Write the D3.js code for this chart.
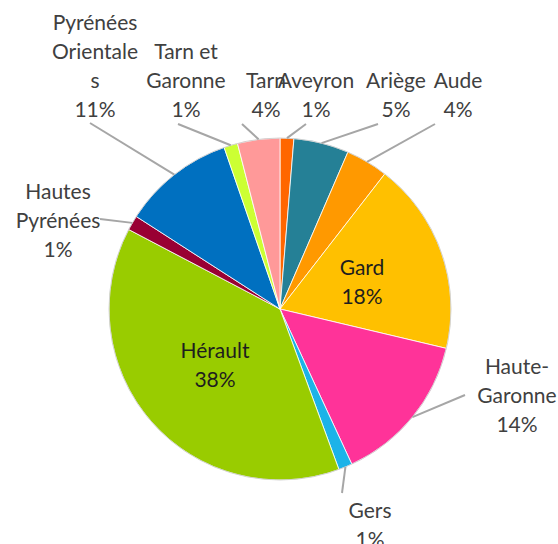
<!DOCTYPE html>
<html>
<head>
<meta charset="utf-8">
<script src="https://cdn.jsdelivr.net/npm/d3@7"></script>
<style>
  body { margin: 0; background: #fff; }
  svg { display: block; }
</style>
</head>
<body>
<div id="chart"></div>
<script>
// donnees (parts en %, ordre horaire depuis midi)
var departements = ["Aveyron", "Ariège", "Aude", "Gard", "Haute-Garonne", "Gers", "Hérault", "Hautes Pyrénées", "Pyrénées Orientales", "Tarn et Garonne", "Tarn"];
var parts = [1.3, 5.2, 4.0, 18.2, 14.4, 1.3, 38.3, 1.4, 10.6, 1.3, 4.0];
var couleurs = ["#FF6600", "#258096", "#FF9900", "#FFC000", "#FF3399", "#1CB3E8", "#99CC00", "#990033", "#0070C0", "#CCFF33", "#FF9999"];
// libelles tels qu'affiches (retours a la ligne)
var libelles = [["Aveyron"], ["Ariège"], ["Aude"], ["Gard"], ["Haute-", "Garonne"], ["Gers"], ["Hérault"], ["Hautes", "Pyrénées"], ["Pyrénées", "Orientale", "s"], ["Tarn et", "Garonne"], ["Tarn"]];

// placement des etiquettes : point du texte (x, y de la derniere ligne) et bout du trait
var layout = {
  "Aveyron":            {x: 316, y: 110, lx: 306, ly: 124},
  "Ariège":             {x: 396, y: 110, lx: 378, ly: 124},
  "Aude":               {x: 458, y: 110, lx: 435, ly: 124},
  "Gard":               {x: 362, y: 297, inside: true},
  "Haute-Garonne":      {x: 517, y: 425, lx: 465, ly: 395},
  "Gers":               {x: 370, y: 540, lx: 342, ly: 493},
  "Hérault":            {x: 215, y: 380, inside: true},
  "Hautes Pyrénées":    {x: 58,  y: 250, lx: 100, ly: 219},
  "Pyrénées Orientales":{x: 95,  y: 110, lx: 90,  ly: 123},
  "Tarn et Garonne":    {x: 186, y: 110, lx: 178, ly: 124},
  "Tarn":               {x: 266, y: 110, lx: 242, ly: 124}
};

var width = 558, height = 544;
var cx = 280, cy = 309, radius = 171;
var lineH = 29;

var svg = d3.select("#chart").append("svg")
  .attr("width", width)
  .attr("height", height)
  .style("font-family", "Lato, 'Open Sans', sans-serif")
  .style("font-size", "21px");

var data = departements.map(function(d, i) {
  return {nom: d, valeur: parts[i], couleur: couleurs[i], lignes: libelles[i]};
});
var total = d3.sum(parts);

var pie = d3.pie().sort(null).value(function(d) { return d.valeur; });
var arcs = pie(data);

var arc = d3.arc().innerRadius(0).outerRadius(radius);

var g = svg.append("g").attr("transform", "translate(" + cx + "," + cy + ")");

// traits des etiquettes (sous le camembert)
var traits = svg.append("g");
arcs.forEach(function(a) {
  var p = layout[a.data.nom];
  if (p.inside) return;
  var mid = (a.startAngle + a.endAngle) / 2;
  var x0 = cx + Math.sin(mid) * radius, y0 = cy - Math.cos(mid) * radius;
  traits.append("line")
    .attr("x1", x0).attr("y1", y0)
    .attr("x2", p.lx).attr("y2", p.ly)
    .attr("stroke", "#A6A6A6")
    .attr("stroke-width", 2);
});

g.selectAll("path")
  .data(arcs)
  .enter().append("path")
  .attr("d", arc)
  .attr("fill", function(d) { return d.data.couleur; })
  .attr("stroke", "#fff")
  .attr("stroke-width", 0.8);

g.append("circle")
  .attr("r", radius)
  .attr("fill", "none")
  .attr("stroke", "#C8C8C8")
  .attr("stroke-width", 0.8);

// etiquettes
arcs.forEach(function(a) {
  var p = layout[a.data.nom];
  var lignes = a.data.lignes.concat([Math.round(a.data.valeur / total * 100) + "%"]);
  var t = svg.append("text")
    .attr("text-anchor", "middle")
    .attr("fill", p.inside ? "#1E1E1E" : "#404040");
  lignes.forEach(function(l, i) {
    t.append("tspan")
      .attr("x", p.x)
      .attr("y", p.y - (lignes.length - 1 - i) * lineH + 7)
      .text(l);
  });
});
</script>
</body>
</html>
